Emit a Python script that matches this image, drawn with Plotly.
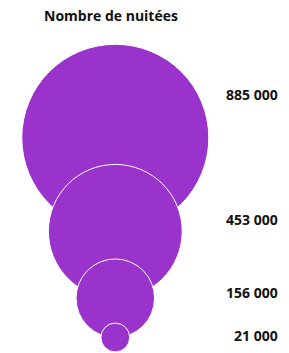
import math
import plotly.graph_objects as go

# Data
categories = ["A", "B", "C", "D"]
values = [885000, 453000, 156000, 21000]
labels = ["885 000", "453 000", "156 000", "21 000"]
title = "Nombre de nuitées"

# Style / layout constants (axes in page-pixel units)
W, H = 289, 353
K = 0.0994          # px radius per sqrt(value)
CX = 115.3          # circle centre x
TOP = 44.3          # top of largest circle
LABEL_X = 279.5
LABEL_Y = [94.5, 219, 292, 335.5]
COLOR = "#9933CC"
FONT = "Open Sans"

radii = [K * math.sqrt(v) for v in values]
centers = []
prev_bottom = None
for i, r in enumerate(radii):
    cy = TOP + r if i == 0 else prev_bottom
    centers.append(cy)
    prev_bottom = cy + r

fig = go.Figure()
for cat, v, r, cy in zip(categories, values, radii, centers):
    fig.add_trace(go.Scatter(
        x=[CX], y=[cy], mode="markers",
        marker=dict(size=2 * r, color=COLOR, line=dict(color="white", width=1)),
        hoverinfo="text", hovertext=f"{v:,}".replace(",", " "),
        showlegend=False, name=cat,
    ))

for lab, ly in zip(labels, LABEL_Y):
    fig.add_annotation(x=LABEL_X, y=ly, text=f"<b>{lab}</b>", showarrow=False,
                       xanchor="right", yanchor="middle",
                       font=dict(family=FONT, size=14, color="#111111"))

fig.add_annotation(x=111, y=15, text=f"<b>{title}</b>", showarrow=False,
                   xanchor="center", yanchor="middle",
                   font=dict(family=FONT, size=14, color="#111111"))

fig.update_layout(
    width=W, height=H, margin=dict(l=0, r=0, t=0, b=0),
    paper_bgcolor="white", plot_bgcolor="white",
    xaxis=dict(range=[0, W], visible=False, fixedrange=True),
    yaxis=dict(range=[H, 0], visible=False, fixedrange=True),
)
fig.write_html(
    "out.html",
    config={"displayModeBar": False},
    post_script="document.body.style.margin='0';document.body.style.overflow='hidden';",
)
